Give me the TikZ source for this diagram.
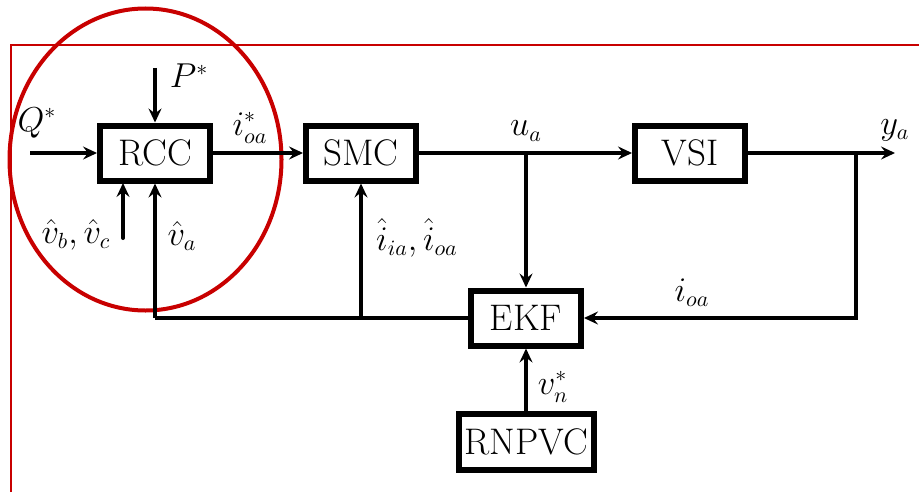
\documentclass[tikz,border=0pt]{standalone}
\usetikzlibrary{arrows.meta}
\definecolor{markred}{RGB}{200,0,0}
\begin{document}
\begin{tikzpicture}[x=0.5pt,y=-0.5pt,
  font=\fontsize{16}{19}\selectfont,
  blk/.style={draw, line width=3pt, minimum width=55pt, minimum height=27.5pt, inner sep=0pt, font=\fontsize{18.5}{22}\selectfont},
  wire/.style={line width=2pt},
  arr/.style={wire, -{Stealth[length=7pt,width=6.5pt,inset=2.5pt]}},
  lbl/.style={inner sep=0pt}]
\useasboundingbox (0,0) rectangle (919,492);
% red markings
\draw[markred, line width=1pt] (11,492) -- (11,45) -- (919,45);
\draw[markred, line width=2pt] (145.5,159.5) ellipse [x radius=68pt, y radius=75.5pt];
% blocks
\node[blk] (rcc) at (155,153) {RCC};
\node[blk] (smc) at (361,153) {SMC};
\node[blk] (vsi) at (690,153) {VSI};
\node[blk] (ekf) at (526,318) {EKF};
\node[blk, minimum width=67.5pt, minimum height=28pt] (rnp) at (526,442) {RNPVC};
% coordinates
\coordinate (qin) at (30,153);
\coordinate (pin) at (155,68);
\coordinate (vbc) at (123,238);
\coordinate (rccb) at (123,183);
\coordinate (fbl) at (155,318);
\coordinate (fbm) at (361,318);
\coordinate (ua) at (526,153);
\coordinate (yout) at (895,153);
\coordinate (yb) at (856,153);
\coordinate (yd) at (856,318);
% connectors
\draw[arr] (qin) -- (rcc.west);
\draw[arr] (pin) -- (rcc.north);
\draw[arr, line cap=round] (vbc) -- (rccb);
\draw[arr] (rcc.east) -- (smc.west);
\draw[arr] (smc.east) -- (vsi.west);
\draw[arr] (ua) -- (ekf.north);
\draw[arr] (vsi.east) -- (yout);
\draw[arr] (yb) -- (yd) -- (ekf.east);
\draw[wire] (ekf.west) -- (fbl);
\draw[arr] (fbl) -- (rcc.south);
\draw[arr] (fbm) -- (smc.south);
\draw[arr] (rnp.north) -- (ekf.south);
% labels
\node[lbl] (lq) at (37,123) {$Q^{*}$};
\node[lbl] (lp) at (189,76) {$P^{*}$};
\node[lbl] (lio) at (250,128) {$i_{oa}^{*}$};
\node[lbl] (lvbc) at (76,235) {$\hat{v}_b,\hat{v}_c$};
\node[lbl] (lva) at (182,236) {$\hat{v}_a$};
\node[lbl] (lua) at (526,131) {$u_a$};
\node[lbl] (liia) at (417,238) {$\hat{i}_{ia},\hat{i}_{oa}$};
\node[lbl] (lya) at (895,130) {$y_a$};
\node[lbl] (lioa) at (692,293) {$i_{oa}$};
\node[lbl] (lvn) at (553,387) {$v_n^{*}$};
\end{tikzpicture}
\end{document}
